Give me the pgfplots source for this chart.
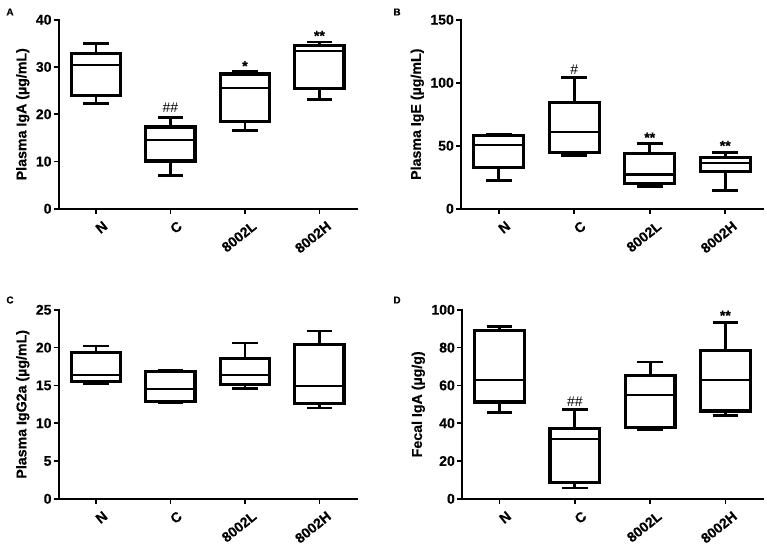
\documentclass[border=0pt]{standalone}
\usepackage{fontspec}
\setmainfont{Liberation Sans}[BoldFeatures={FakeBold=0.4}]
\usepackage{pgfplots}
\pgfplotsset{compat=1.18}
\usepgfplotslibrary{statistics}

\newcommand{\lbl}{\bfseries\fontsize{14}{14}\selectfont}
\newcommand{\ylbl}{\bfseries\fontsize{14.2}{14.2}\selectfont}
\newcommand{\hsh}{\fontsize{14}{14}\selectfont}

\pgfplotsset{
  panel/.style={
    scale only axis, height=189pt,
    xmin=0.5, xmax=4.5, ymin=0,
    axis x line*=bottom, axis y line*=left,
    axis line style={-, line width=1.6pt, line cap=rect},
    every tick/.style={black, line width=1.6pt},
    major tick length=5pt, tick align=outside,
    xtick={1,2,3,4}, xticklabels={N,C,8002L,8002H},
    x tick label style={rotate=39, anchor=north east, inner sep=1pt, xshift=2pt, yshift=-8pt},
    y tick label style={inner sep=2pt},
    tick label style={font=\lbl},
    /pgf/number format/assume math mode=true,
    ylabel style={font=\ylbl, yshift=1pt},
    boxplot/draw direction=y,
    boxplot/box extend=0.66,
    boxplot/whisker extend=0.34,
    boxplot/every median/.style={line width=2.2pt},
    boxplot/every whisker/.style={line width=2.8pt},
    clip=false,
  },
  bx/.style={draw=black, line width=3.2pt, solid, mark=none},
}

\begin{document}
\begin{tikzpicture}
\useasboundingbox (0,0) rectangle (767pt,-549pt);

% A
\begin{axis}[panel, width=298pt, at={(58.7pt,-208.7pt)}, anchor=south west,
  ymax=40, ytick={0,10,20,30,40}, ylabel={Plasma IgA (µg/mL)}]
\addplot[bx, boxplot prepared={lower whisker=22.3, lower quartile=24.0, median=30.4, upper quartile=32.9, upper whisker=34.9, draw position=1}] coordinates {};
\addplot[bx, boxplot prepared={lower whisker=7.0, lower quartile=10.1, median=14.5, upper quartile=17.3, upper whisker=19.3, draw position=2}] coordinates {};
\addplot[bx, boxplot prepared={lower whisker=16.5, lower quartile=18.5, median=25.5, upper quartile=28.5, upper whisker=29.1, draw position=3}] coordinates {};
\addplot[bx, boxplot prepared={lower whisker=23.1, lower quartile=25.4, median=33.4, upper quartile=34.6, upper whisker=35.3, draw position=4}] coordinates {};
\node[font=\hsh] at (axis cs:2,21.3) {\#\#};
\node[font=\lbl] at (axis cs:3,30.2) {*};
\node[font=\lbl] at (axis cs:4,36.6) {**};
\end{axis}

% B
\begin{axis}[panel, width=302pt, at={(461pt,-208.7pt)}, anchor=south west,
  ymax=150, ytick={0,50,100,150}, ylabel={Plasma IgE (µg/mL)}]
\addplot[bx, boxplot prepared={lower whisker=22.4, lower quartile=32.7, median=50.7, upper quartile=57.8, upper whisker=58.6, draw position=1}] coordinates {};
\addplot[bx, boxplot prepared={lower whisker=42.2, lower quartile=44.4, median=60.7, upper quartile=84.5, upper whisker=104, draw position=2}] coordinates {};
\addplot[bx, boxplot prepared={lower whisker=17.7, lower quartile=20.1, median=27.2, upper quartile=43.8, upper whisker=51.5, draw position=3}] coordinates {};
\addplot[bx, boxplot prepared={lower whisker=14.3, lower quartile=29.3, median=36.4, upper quartile=40.7, upper whisker=44.9, draw position=4}] coordinates {};
\node[font=\hsh] at (axis cs:2,110.5) {\#};
\node[font=\lbl] at (axis cs:3,56.5) {**};
\node[font=\lbl] at (axis cs:4,50) {**};
\end{axis}

% C
\begin{axis}[panel, width=298pt, at={(58.7pt,-498.8pt)}, anchor=south west,
  ymax=25, ytick={0,5,10,15,20,25}, ylabel={Plasma IgG2a (µg/mL)}]
\addplot[bx, boxplot prepared={lower whisker=15.3, lower quartile=15.5, median=16.4, upper quartile=19.4, upper whisker=20.2, draw position=1}] coordinates {};
\addplot[bx, boxplot prepared={lower whisker=12.7, lower quartile=12.9, median=14.5, upper quartile=16.8, upper whisker=17.0, draw position=2}] coordinates {};
\addplot[bx, boxplot prepared={lower whisker=14.6, lower quartile=15.1, median=16.4, upper quartile=18.6, upper whisker=20.6, draw position=3}] coordinates {};
\addplot[bx, boxplot prepared={lower whisker=12.0, lower quartile=12.6, median=14.9, upper quartile=20.4, upper whisker=22.2, draw position=4}] coordinates {};
\end{axis}

% D
\begin{axis}[panel, width=301pt, at={(462pt,-498.8pt)}, anchor=south west,
  ymax=100, ytick={0,20,40,60,80,100}, ylabel={Fecal IgA (µg/g)}]
\addplot[bx, boxplot prepared={lower whisker=45.8, lower quartile=51.2, median=63.0, upper quartile=89.0, upper whisker=91.2, draw position=1}] coordinates {};
\addplot[bx, boxplot prepared={lower whisker=5.7, lower quartile=8.8, median=31.7, upper quartile=37.2, upper whisker=47.1, draw position=2}] coordinates {};
\addplot[bx, boxplot prepared={lower whisker=36.5, lower quartile=37.7, median=54.9, upper quartile=65.1, upper whisker=72.4, draw position=3}] coordinates {};
\addplot[bx, boxplot prepared={lower whisker=44.1, lower quartile=46.5, median=63.0, upper quartile=78.4, upper whisker=93.3, draw position=4}] coordinates {};
\node[font=\hsh] at (axis cs:2,51.5) {\#\#};
\node[font=\lbl] at (axis cs:4,97) {**};
\end{axis}

\node[font=\bfseries\fontsize{10}{10}\selectfont] at (10pt,-12pt) {A};
\node[font=\bfseries\fontsize{10}{10}\selectfont] at (397pt,-12pt) {B};
\node[font=\bfseries\fontsize{10}{10}\selectfont] at (10pt,-300pt) {C};
\node[font=\bfseries\fontsize{10}{10}\selectfont] at (397pt,-300pt) {D};
\end{tikzpicture}
\end{document}
